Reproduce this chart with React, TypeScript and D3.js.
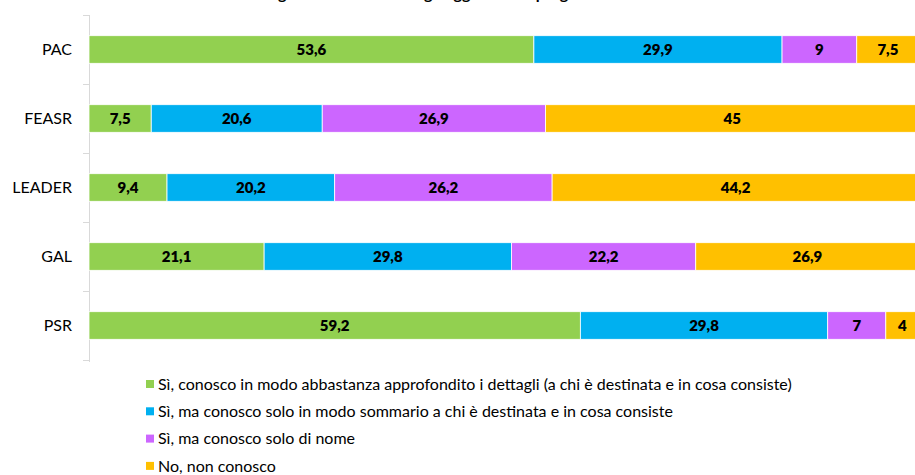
import { useEffect, useRef } from "react";
import { select, scaleBand, scaleLinear, stack } from "d3";

const CATEGORIES = ["PAC", "FEASR", "LEADER", "GAL", "PSR"];
const SERIES = [
  "Sì, conosco in modo abbastanza approfondito i dettagli (a chi è destinata e in cosa consiste)",
  "Sì, ma conosco solo in modo sommario a chi è destinata e in cosa consiste",
  "Sì, ma conosco solo di nome",
  "No, non conosco",
];
const COLORS = ["#92d050", "#00b0f0", "#cc66ff", "#ffc000"];

const DETAILED = [53.6, 7.5, 9.4, 21.1, 59.2];
const SUMMARY = [29.9, 20.6, 20.2, 29.8, 29.8];
const NAME_ONLY = [9, 26.9, 26.2, 22.2, 7];
const NOT_KNOWN = [7.5, 45, 44.2, 26.9, 4];

const TITLE = "Fig. 5 - Conoscenza degli oggetti della programmazione";

const WIDTH = 915;
const HEIGHT = 475;
const FONT = "Lato, 'Open Sans', sans-serif";

export default function App() {
  const svgRef = useRef<SVGSVGElement | null>(null);

  useEffect(() => {
    const svg = svgRef.current;
    if (!svg) return;
    select(svg).selectAll("*").remove();
    const root = select(svg);

    const rows = CATEGORIES.map((cat, i) => ({
      cat,
      s0: DETAILED[i],
      s1: SUMMARY[i],
      s2: NAME_ONLY[i],
      s3: NOT_KNOWN[i],
    }));
    const keys = ["s0", "s1", "s2", "s3"];
    const layers = stack<any>().keys(keys)(rows);

    const x = scaleLinear().domain([0, 100]).range([89, 919]);
    const y = scaleBand<string>()
      .domain(CATEGORIES)
      .range([15, 360])
      .paddingInner(0.6)
      .paddingOuter(0.3);

    // title sits above the visible area, only its descenders show
    root
      .append("text")
      .attr("x", 460)
      .attr("y", -1)
      .attr("text-anchor", "middle")
      .attr("font-family", FONT)
      .attr("font-size", 16)
      .attr("font-weight", 700)
      .attr("fill", "#000")
      .text(TITLE);

    // axis + boundary ticks
    const axisColor = "#d9d9d9";
    root
      .append("line")
      .attr("x1", 89.5)
      .attr("x2", 89.5)
      .attr("y1", 15)
      .attr("y2", 362)
      .attr("stroke", axisColor);
    const step = y.step();
    for (let k = 0; k <= CATEGORIES.length; k++) {
      const yy = Math.round(15 + k * step) + 0.5;
      root
        .append("line")
        .attr("x1", 83)
        .attr("x2", 89.5)
        .attr("y1", yy)
        .attr("y2", yy)
        .attr("stroke", axisColor);
    }

    // category labels
    root
      .append("g")
      .selectAll("text")
      .data(CATEGORIES)
      .enter()
      .append("text")
      .attr("x", 72)
      .attr("y", (d) => (y(d) ?? 0) + y.bandwidth() / 2)
      .attr("dy", "0.36em")
      .attr("text-anchor", "end")
      .attr("font-family", FONT)
      .attr("font-size", 16)
      .attr("fill", "#000")
      .text((d) => d);

    layers.forEach((layer, li) => {
      const g = root.append("g");
      g.selectAll("rect")
        .data(layer)
        .enter()
        .append("rect")
        .attr("x", (d) => x(d[0]))
        .attr("y", (d) => y(d.data.cat) ?? 0)
        .attr("width", (d) => x(d[1]) - x(d[0]))
        .attr("height", y.bandwidth())
        .attr("fill", COLORS[li])
        .attr("stroke", "#ffffff")
        .attr("stroke-width", 0.8);
      g.selectAll("text")
        .data(layer)
        .enter()
        .append("text")
        .attr("x", (d) => (x(d[0]) + x(d[1])) / 2)
        .attr("y", (d) => (y(d.data.cat) ?? 0) + y.bandwidth() / 2)
        .attr("dy", "0.36em")
        .attr("text-anchor", "middle")
        .attr("font-family", FONT)
        .attr("font-size", 15)
        .attr("font-weight", 800)
        .attr("fill", "#000")
        .text((d) => String(+(d[1] - d[0]).toFixed(1)).replace(".", ","));
    });

    // legend
    const legend = root.append("g");
    SERIES.forEach((label, i) => {
      const cy = 384 + i * 27.3;
      legend
        .append("rect")
        .attr("x", 146)
        .attr("y", cy - 4)
        .attr("width", 8)
        .attr("height", 8)
        .attr("fill", COLORS[i]);
      legend
        .append("text")
        .attr("x", 158)
        .attr("y", cy)
        .attr("dy", "0.35em")
        .attr("font-family", FONT)
        .attr("font-size", 16)
        .attr("fill", "#000")
        .text(label);
    });
  }, []);

  return (
    <svg
      ref={svgRef}
      width={WIDTH}
      height={HEIGHT}
      style={{ position: "absolute", left: 0, top: 0, background: "#fff" }}
    />
  );
}
